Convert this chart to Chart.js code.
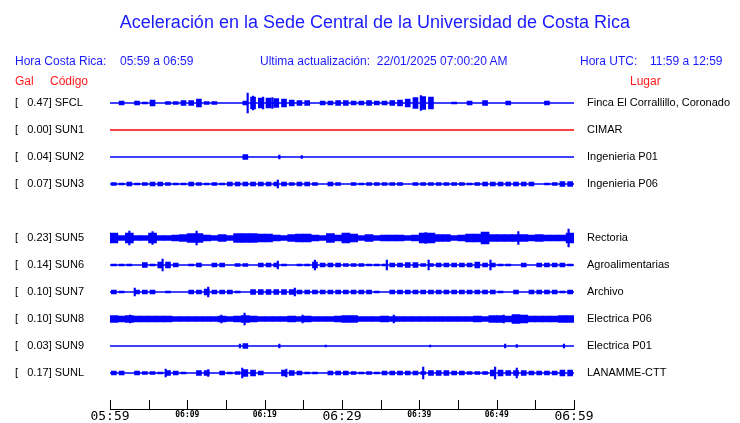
<!DOCTYPE html>
<html>
  <head>
    <meta charset="utf-8" />
    <style>
      body { margin: 0; background: #fff; }
      #wrap { position: relative; width: 740px; height: 423px; font-family: "Liberation Sans", Arial, sans-serif; }
      #sismo { position: absolute; left: 0; top: 0; display: block; }
      .t { position: absolute; white-space: pre; font-size: 12px; line-height: 14px; color: #1a1aff; }
      .red { color: #ff1a1a; }
      #title { position: absolute; left: 0; width: 750px; top: 11px; text-align: center; font-size: 18px; line-height: 22px; color: #1a1aff; }
    </style>
  </head>
  <body>
    <div id="wrap">
      <canvas id="sismo" width="740" height="423"></canvas>
      <div id="title">Aceleración en la Sede Central de la Universidad de Costa Rica</div>
      <div class="t" style="left: 15px; top: 54px">Hora Costa Rica:</div>
      <div class="t" style="left: 120px; top: 54px">05:59 a 06:59</div>
      <div class="t" style="left: 260px; top: 54px">Ultima actualización:  22/01/2025 07:00:20 AM</div>
      <div class="t" style="left: 580px; top: 54px">Hora UTC:</div>
      <div class="t" style="left: 650px; top: 54px">11:59 a 12:59</div>
      <div class="t red" style="left: 15px; top: 74px">Gal</div>
      <div class="t red" style="left: 50px; top: 74px">Código</div>
      <div class="t red" style="left: 630px; top: 74px">Lugar</div>
    </div>

    <script src="https://cdn.jsdelivr.net/npm/chart.js"></script>

    <script>
      // estaciones (SUN4 sin datos -> fila vacia)
      const codes = ["SFCL", "SUN1", "SUN2", "SUN3", "", "SUN5", "SUN6", "SUN7", "SUN8", "SUN9", "SUNL"];
      const gal = [0.47, 0.0, 0.04, 0.07, null, 0.23, 0.14, 0.1, 0.1, 0.03, 0.17];
      const places = ["Finca El Corrallillo, Coronado", "CIMAR", "Ingenieria P01", "Ingenieria P06", "",
        "Rectoria", "Agroalimentarias", "Archivo", "Electrica P06", "Electrica P01", "LANAMME-CTT"];

      const timeRange = [0, 60]; // minutos desde 05:59
      const timeLabels = ["05:59", "06:09", "06:19", "06:29", "06:39", "06:49", "06:59"];

      // envolvente por minuto (media amplitud)
      const envSFCL = [0,2,0,2,1,3,0,1.5,1.5,2.5, 2.5,4,1.5,1.5,0,0,0,2,6,5, 5,4.5,4,3,2.5,2.5,0,2,2,2.5,
        2.5,2,2,2.5,2,2,2.5,3,4,5.5, 6.5,6,0,0,1,0,2,0,2.5,0, 0,2,0,0,0,0,2,0,0,0];
      const envSUN1 = [];
      const envSUN2 = [0,0,0,0,0,0,0,0,0,0, 0,0,0,0,0,0,0,2.5,0,0, 0,0,0,0,0,0,0,0,0,0,
        0,0,0,0,0,0,0,0,0,0, 0,0,0,0,0,0,0,0,0,0, 0,0,0,0,0,0,0,0,0,0];
      const envSUN3 = [1.5,1,2,1,1.5,2,2,1.5,1,1, 2,1.5,1,1.5,1,2,2,2,2,2, 2,2,2,1.5,2,2,1.5,0,2,1.5,
        0,1.5,1,1.5,1.5,1.5,1.5,1.5,0,1.5, 1.5,1.5,1.5,1.5,1.5,1.5,1,1.5,2,2, 2,2,2,2,2,0,1,1.5,2.5,2.5];
      const envSUN5 = [5,2.5,5,2.5,2.5,5,2.5,2.5,3,3.5, 4.5,4.5,3,2.5,3.5,2.5,4.5,4.5,4.5,4, 4,3,2.5,3.5,4,4,3,2.5,4.5,3,
        5,4,2.5,3.5,2.5,3,3,3,2.5,3, 5,5,3.5,3.5,2.5,3,4,4,6,3.5, 3.5,3.5,3.5,3.5,3,3.5,3,3,3,5];
      const envSUN6 = [1,1,1,0,2.5,1,3,3,2,0, 1,2,0,2,2,0,1.5,1.5,0,2, 2,2,1,0,1,1,3,2,2,2,
        1.5,1.5,1.5,1,1,1,2,2,2.5,2.5, 1.5,1.5,2,2,2,2,2,3,2,2, 1,1,0,2,0,2,2,2,2,1];
      const envSUN7 = [2,1,0,2,2,2,0,1,0,0, 2,2,3,2,2,2,1,0,2.5,2.5, 2.5,2.5,2.5,2.5,2,2,2,2,2,2,
        2,2,2,2,1,0,2,2,2,2, 2,2,2,2,2,2,2,2,2,2, 1,0,2,0,2,2,2,2,1,2];
      const envSUN8 = [3.5,3,3.5,3,3,3,3,3,2.5,2.5, 2.5,2.5,2.5,2.5,3,2.5,3,3.5,3,2.5, 2.5,2.5,2.5,3,2.5,3,2.5,2.5,2.5,3,
        3.5,3.5,2.5,2.5,2.5,3,2.5,2.5,2.5,2.5, 2.5,2.5,2.5,2.5,2.5,2.5,2.5,3,2.5,3.5, 3.5,3,4.5,4,3,3,3,3,3.5,3.5];
      const envSUN9 = [0,0,0,0,0,0,0,0,0,0, 0,0,0,0,0,0,0,2.5,0,0, 0,0,0,0,0,0,0,0,0,0,
        0,0,0,0,0,0,0,0,0,0, 0,0,0,0,0,0,0,0,0,0, 0,0,0,0,0,0,0,0,0,0];
      const envSUNL = [2,2,0,2,1.5,1.5,1,2.5,2,1, 0,2.5,2.5,0,2,1,1.5,3.5,3,2, 0,0,3,2.5,2,1,1,0,2,2,
        2,1.5,1,1.5,1,2,2,2,2,2, 1.5,2.5,2.5,2.5,2,2,1.5,1.5,1.5,3, 3,2.5,2.5,2.5,2,2,2,2,3,3];

      // picos aislados [minuto, amplitud]
      const spkSFCL = [[17.8, 10], [18.5, 7], [19.8, 6], [21, 5.5], [40.2, 7.5]];
      const spkSUN2 = [[21.9, 2], [24.8, 1.5]];
      const spkSUN3 = [[21.7, 4]];
      const spkSUN5 = [[2.5, 7], [5.5, 6.5], [11.2, 7], [40.8, 5.5], [52.8, 6.5], [59.3, 9]];
      const spkSUN6 = [[6.8, 6], [21.7, 4], [26.5, 5], [35.8, 5], [41.2, 5], [49.2, 5]];
      const spkSUN7 = [[3.2, 4], [12.7, 5], [23.9, 4]];
      const spkSUN8 = [[2.6, 4], [14.4, 4], [17.4, 6], [24.9, 4], [36.7, 4], [50.9, 4]];
      const spkSUN9 = [[16.8, 2], [21.9, 2], [27.9, 1], [41.4, 1], [51.1, 2], [52.6, 1.5], [58.7, 2]];
      const spkSUNL = [[7.2, 4], [12.7, 3.5], [17.1, 5], [22.8, 4], [40.5, 6], [49.8, 6], [52.6, 5]];

      const traces = {
        SFCL: [envSFCL, spkSFCL], SUN1: [envSUN1, []], SUN2: [envSUN2, spkSUN2], SUN3: [envSUN3, spkSUN3],
        SUN5: [envSUN5, spkSUN5], SUN6: [envSUN6, spkSUN6], SUN7: [envSUN7, spkSUN7], SUN8: [envSUN8, spkSUN8],
        SUN9: [envSUN9, spkSUN9], SUNL: [envSUNL, spkSUNL],
      };

      const k = 1 / 27; // amplitud -> unidades de fila
      const dense = ["SUN5", "SUN8"];
      const datasets = [];

      codes.forEach((code, row) => {
        if (!code) return;
        const color = code === "SUN1" ? "#ff0000" : "#0000ff";
        const [env, spk] = traces[code];
        datasets.push({
          type: "line",
          data: timeRange.map((t) => ({ x: t, y: row })),
          borderColor: color,
          borderWidth: 1.3,
          pointRadius: 0,
        });
        datasets.push({
          type: "bar",
          data: env
            .map((a, m) => (a > 0 ? { x: m + 0.5, y: [row - a * k, row + a * k] } : null))
            .filter((d) => d),
          backgroundColor: color,
          barThickness: dense.includes(code) ? 8 : 5,
          grouped: false,
        });
        datasets.push({
          type: "bar",
          data: spk.map(([t, a]) => ({ x: t, y: [row - a * k, row + a * k] })),
          backgroundColor: color,
          barThickness: 1.5,
          grouped: false,
        });
      });

      const leftLabel = (i) => (codes[i] ? "[   " + gal[i].toFixed(2) + "] " + codes[i] : "");

      const rowTicks = (scale) => {
        scale.ticks = codes.map((c, i) => ({ value: i }));
      };

      const upTicks = {
        id: "upTicks",
        afterDraw(chart) {
          const x = chart.scales.x;
          const c = chart.ctx;
          c.save();
          c.strokeStyle = "#000";
          c.lineWidth = 1;
          c.beginPath();
          x.ticks.forEach((t) => {
            const px = Math.round(x.getPixelForValue(t.value)) + 0.5;
            c.moveTo(px, x.top - 9);
            c.lineTo(px, x.top);
          });
          c.stroke();
          c.restore();
        },
      };

      new Chart(document.getElementById("sismo"), {
        type: "bar",
        data: { datasets: datasets },
        options: {
          responsive: false,
          animation: false,
          events: [],
          layout: { padding: { top: 89.5, left: 15, right: 0, bottom: 0 } },
          plugins: { legend: { display: false }, tooltip: { enabled: false } },
          scales: {
            x: {
              type: "linear",
              min: timeRange[0],
              max: timeRange[1],
              offset: false,
              grid: { display: false, drawTicks: false, offset: false },
              border: { display: true, color: "#000", width: 1 },
              afterFit: (s) => { s.height = 14; },
              ticks: {
                stepSize: 5,
                autoSkip: false,
                maxRotation: 0,
                padding: 1,
                color: "#000",
                callback: (v) => (v % 10 === 0 ? timeLabels[v / 10] : ""),
                font: (c) =>
                  c.tick && c.tick.value % 30 === 0
                    ? { family: "DejaVu Sans Mono", size: 13, lineHeight: 1 }
                    : { family: "DejaVu Sans Mono", size: 8, weight: "bold", lineHeight: 1.3 },
              },
            },
            y: {
              type: "linear",
              position: "left",
              reverse: true,
              min: -0.5,
              max: 11.3333,
              grid: { display: false, drawTicks: false },
              border: { display: false },
              afterBuildTicks: rowTicks,
              afterFit: (s) => { s.width = 95; },
              ticks: {
                autoSkip: false,
                crossAlign: "far",
                padding: 0,
                color: "#000",
                font: { family: "Liberation Sans", size: 11 },
                callback: (v, i) => leftLabel(i),
              },
            },
            y2: {
              type: "linear",
              position: "right",
              reverse: true,
              min: -0.5,
              max: 11.3333,
              grid: { display: false, drawTicks: true, tickLength: 13 },
              border: { display: false },
              afterBuildTicks: rowTicks,
              afterFit: (s) => { s.width = 166; },
              ticks: {
                autoSkip: false,
                crossAlign: "near",
                padding: 0,
                color: "#000",
                font: { family: "Liberation Sans", size: 11 },
                callback: (v, i) => places[i],
              },
            },
          },
        },
        plugins: [upTicks],
      });
    </script>
  </body>
</html>
